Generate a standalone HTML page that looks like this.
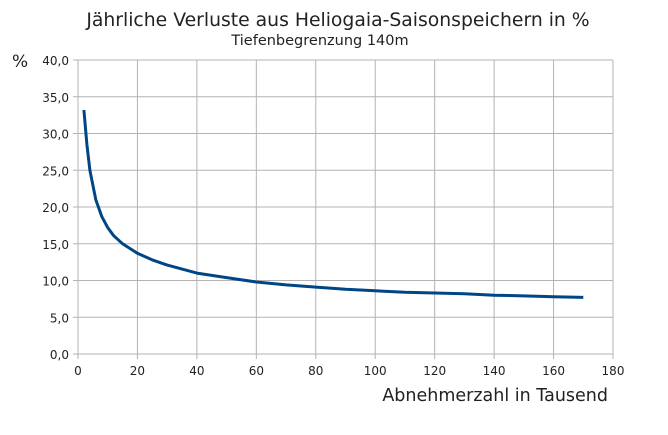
<!DOCTYPE html>
<html><head><meta charset="utf-8"><style>
body{margin:0;background:#fff;width:668px;height:430px;overflow:hidden}
text{font-family:"DejaVu Sans","Liberation Sans",sans-serif;fill:#222}
</style></head><body>
<svg id="c" width="668" height="430">
<text x="338" y="26" font-size="18.8" text-anchor="middle">Jährliche Verluste aus Heliogaia-Saisonspeichern in %</text>
<text x="320" y="45" font-size="14.5" text-anchor="middle">Tiefenbegrenzung 140m</text>
<text x="12" y="67" font-size="17">%</text>
<text x="608" y="401" font-size="17.5" text-anchor="end">Abnehmerzahl in Tausend</text>
<g id="grid"></g><g id="ticks"></g>
<path id="line" fill="none" stroke="#004586" stroke-width="3" stroke-linejoin="round"/>
</svg>
<script>
const xVals=[2,3,4,6,8,10,12,15,20,25,30,40,50,60,70,80,90,100,110,120,130,140,150,160,170];
const yVals=[33.2,28.5,25,21,18.7,17.2,16.1,15,13.7,12.8,12.1,11,10.4,9.8,9.4,9.1,8.8,8.6,8.4,8.3,8.2,8.0,7.9,7.8,7.7];
const xTicks=[0,20,40,60,80,100,120,140,160,180];
const yTicks=[0,5,10,15,20,25,30,35,40];
const X0=78,X1=613,Y0=354,Y1=60;
const sx=v=>X0+(v/180)*(X1-X0), sy=v=>Y0-(v/40)*(Y0-Y1);
const NS="http://www.w3.org/2000/svg";
const grid=document.getElementById('grid'),ticks=document.getElementById('ticks');
function mk(tag,attrs,parent){const e=document.createElementNS(NS,tag);for(const k in attrs)e.setAttribute(k,attrs[k]);parent.appendChild(e);return e;}
xTicks.forEach(t=>{
 const l=mk('line',{x1:sx(t),x2:sx(t),y1:Y1,y2:Y0+5,stroke:'#b3b3b3','stroke-width':1},grid);
 
 
 const tx=mk('text',{x:sx(t),y:Y0+21,'font-size':12,'text-anchor':'middle'},ticks);
 tx.textContent=t;
 
 
});
yTicks.forEach(t=>{
 const l=mk('line',{x1:X0-5,x2:X1,y1:sy(t),y2:sy(t),stroke:'#b3b3b3','stroke-width':1},grid);
 
 
 const tx=mk('text',{x:X0-9,y:sy(t)+5,'font-size':12,'text-anchor':'end'},ticks);
 tx.textContent=t.toFixed(1).replace('.',',');
 
 
});
document.getElementById('line').setAttribute('d',xVals.map((v,i)=>(i?'L':'M')+sx(v).toFixed(1)+','+sy(yVals[i]).toFixed(1)).join(''));
</script>
</body></html>
